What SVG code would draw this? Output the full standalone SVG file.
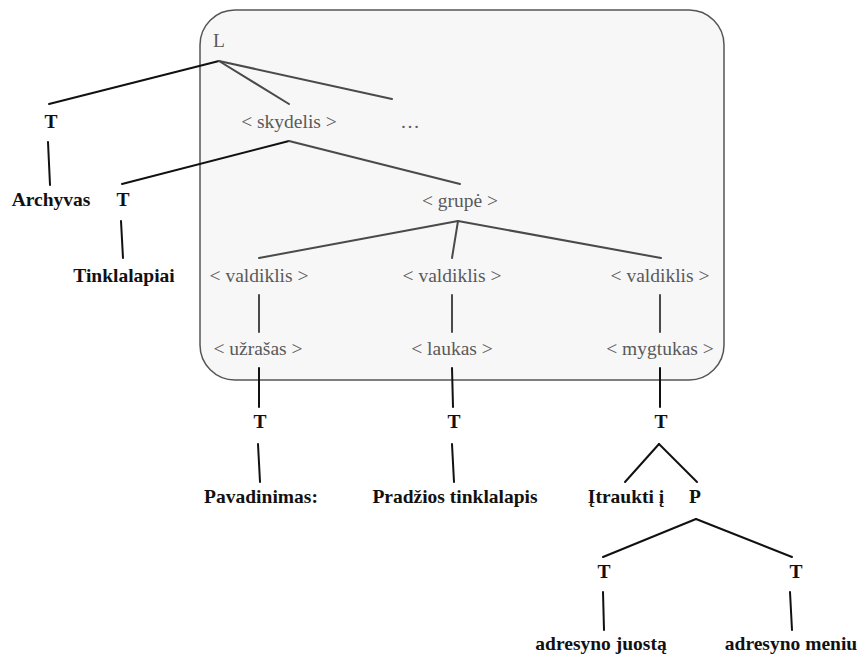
<svg xmlns="http://www.w3.org/2000/svg" width="862" height="657" viewBox="0 0 862 657">
  <style>
    text { font-family: 'Liberation Serif', 'DejaVu Serif', serif; text-anchor: middle; }
    .inner { font-size: 19.5px; fill: #5a5a5a; }
    .outer { font-size: 19.5px; font-weight: bold; fill: #111; }
    .edge-dark { stroke: #111; stroke-width: 2; fill: none; stroke-linecap: round; }
    .edge-grey { stroke: #4a4a4a; stroke-width: 2; fill: none; stroke-linecap: round; }
    .frame { fill: #f7f7f7; stroke: #555; stroke-width: 1.5; }
  </style>

  <!-- shaded region holding the widget hierarchy -->
  <rect class="frame" x="200" y="10" width="524" height="370" rx="35" ry="35"/>

  <!-- connectors -->
  <g id="connectors">
    <line class="edge-dark" x1="219" y1="61" x2="49" y2="104"/>
    <line class="edge-grey" x1="219" y1="61" x2="289" y2="104"/>
    <line class="edge-grey" x1="219" y1="61" x2="392" y2="99"/>
    <line class="edge-dark" x1="48" y1="142" x2="50" y2="185"/>
    <line class="edge-dark" x1="289" y1="141" x2="122" y2="184"/>
    <line class="edge-grey" x1="289" y1="141" x2="460" y2="184"/>
    <line class="edge-dark" x1="121" y1="221" x2="123" y2="258"/>
    <line class="edge-grey" x1="458" y1="221" x2="259" y2="258"/>
    <line class="edge-grey" x1="458" y1="221" x2="452" y2="258"/>
    <line class="edge-grey" x1="458" y1="221" x2="661" y2="258"/>
    <line class="edge-grey" x1="259" y1="295" x2="259" y2="332"/>
    <line class="edge-grey" x1="452" y1="295" x2="452" y2="332"/>
    <line class="edge-grey" x1="660" y1="295" x2="660" y2="332"/>
    <line class="edge-dark" x1="259" y1="368" x2="259" y2="407"/>
    <line class="edge-dark" x1="452" y1="368" x2="453" y2="407"/>
    <line class="edge-dark" x1="660" y1="368" x2="660" y2="407"/>
    <line class="edge-dark" x1="258" y1="444" x2="260" y2="482"/>
    <line class="edge-dark" x1="452" y1="444" x2="454" y2="482"/>
    <line class="edge-dark" x1="659" y1="444" x2="625" y2="482"/>
    <line class="edge-dark" x1="659" y1="444" x2="697" y2="482"/>
    <line class="edge-dark" x1="696" y1="519" x2="603" y2="557"/>
    <line class="edge-dark" x1="696" y1="519" x2="792" y2="557"/>
    <line class="edge-dark" x1="603" y1="592" x2="604" y2="630"/>
    <line class="edge-dark" x1="790" y1="592" x2="792" y2="630"/>
  </g>

  <!-- nodes -->
  <g id="n-L"><text class="inner" x="219" y="47">L</text></g>
  <g id="n-T1"><text class="outer" x="51" y="128">T</text></g>
  <g id="n-skydelis"><text class="inner" x="289" y="128">&lt; skydelis &gt;</text></g>
  <g id="n-more"><text class="inner" x="410" y="128">…</text></g>
  <g id="n-archyvas"><text class="outer" x="51" y="206">Archyvas</text></g>
  <g id="n-T2"><text class="outer" x="123" y="206">T</text></g>
  <g id="n-grupe"><text class="inner" x="460" y="207">&lt; grupė &gt;</text></g>
  <g id="n-tinklalapiai"><text class="outer" x="124" y="282">Tinklalapiai</text></g>
  <g id="n-valdiklis1"><text class="inner" x="259" y="282">&lt; valdiklis &gt;</text></g>
  <g id="n-valdiklis2"><text class="inner" x="452" y="282">&lt; valdiklis &gt;</text></g>
  <g id="n-valdiklis3"><text class="inner" x="660" y="282">&lt; valdiklis &gt;</text></g>
  <g id="n-uzrasas"><text class="inner" x="258" y="355">&lt; užrašas &gt;</text></g>
  <g id="n-laukas"><text class="inner" x="452" y="355">&lt; laukas &gt;</text></g>
  <g id="n-mygtukas"><text class="inner" x="660" y="355">&lt; mygtukas &gt;</text></g>
  <g id="n-T3"><text class="outer" x="260" y="428">T</text></g>
  <g id="n-T4"><text class="outer" x="454" y="428">T</text></g>
  <g id="n-T5"><text class="outer" x="661" y="428">T</text></g>
  <g id="n-pavadinimas"><text class="outer" x="261" y="503">Pavadinimas:</text></g>
  <g id="n-pradzios"><text class="outer" x="455" y="503">Pradžios tinklalapis</text></g>
  <g id="n-itraukti"><text class="outer" x="626" y="503">Įtraukti į</text></g>
  <g id="n-P"><text class="outer" x="695" y="503">P</text></g>
  <g id="n-T6"><text class="outer" x="604" y="578">T</text></g>
  <g id="n-T7"><text class="outer" x="796" y="578">T</text></g>
  <g id="n-juosta"><text class="outer" x="601" y="650">adresyno juostą</text></g>
  <g id="n-meniu"><text class="outer" x="791" y="650">adresyno meniu</text></g>
</svg>
